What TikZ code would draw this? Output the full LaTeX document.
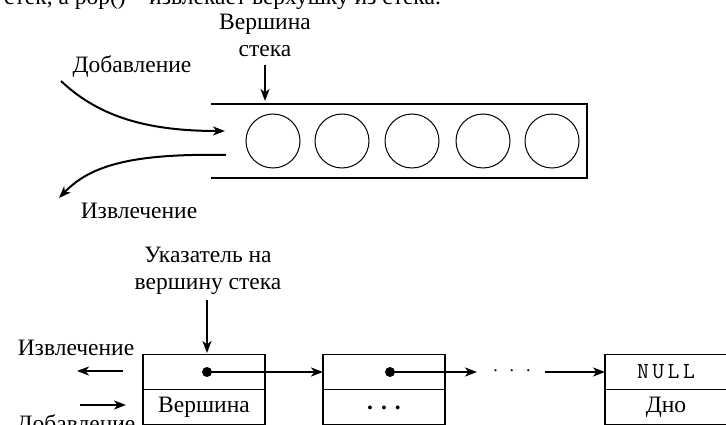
\documentclass[tikz,border=0pt]{standalone}
\usepackage{fontspec}
\setmainfont{Liberation Serif}
\usetikzlibrary{arrows.meta}
\tikzset{
  lbl/.style={inner sep=0pt, font=\fontsize{23.5}{27}\selectfont, align=center},
  arr/.style={line width=2pt, -{Stealth[length=12pt,width=9pt,inset=3.5pt]}},
  tube/.style={line width=2pt},
  ball/.style={circle, draw, line width=1pt, minimum size=54pt, inner sep=0pt},
  cell/.style={rectangle, draw, line width=1.4pt, minimum width=122pt, minimum height=35pt, inner sep=0pt, outer sep=0pt, font=\fontsize{23.5}{27}\selectfont},
  ptr/.style={circle, fill, minimum size=10pt, inner sep=0pt},
}
\begin{document}
\begin{tikzpicture}[x=1pt,y=-1pt]
\useasboundingbox (0,0) rectangle (726,425);
\clip (0,0) rectangle (726,425);
% partially cut-off text line at top
\node[lbl, anchor=base west] (topline) at (4,5) {стек, а pop() – извлекает верхушку из стека.};
% ---------- upper picture: array stack ----------
\node[lbl] (top1) at (265,35) {Вершина\\стека};
\coordinate (top1tip) at (265,101);
\draw[arr] (265,65) -- (top1tip);
\coordinate (tubeTL) at (211,104);
\coordinate (tubeTR) at (587,104);
\coordinate (tubeBR) at (587,178);
\coordinate (tubeBL) at (211,178);
\draw[tube] (tubeTL) -- (tubeTR) -- (tubeBR) -- (tubeBL);
\foreach \i/\x in {1/273,2/342,3/412,4/483,5/552}
  \node[ball] (b\i) at (\x,141) {};
\node[lbl] (add1) at (132,67) {Добавление};
\node[lbl] (rem1) at (139,211) {Извлечение};
\coordinate (addS) at (61,81);
\coordinate (addE) at (225,131);
\draw[arr] (addS) .. controls (100,118) and (150,131) .. (addE);
\coordinate (remS) at (226,155);
\coordinate (remE) at (59,198);
\draw[arr] (remS) .. controls (125,153) and (88,168) .. (remE);
% ---------- lower picture: linked list stack ----------
\node[lbl] (ptrlbl) at (208,271) {Указатель на\\вершину стека};
\node[cell, anchor=north west] (c1t) at (143,354.5) {};
\node[cell, anchor=north] (c1b) at (c1t.south) {Вершина};
\node[cell, anchor=north west] (c2t) at (323,354.5) {};
\node[cell, anchor=north] (c2b) at (c2t.south) {\raisebox{-5pt}{\textbf{.\hspace{8pt}.\hspace{8pt}.}}};
\node[cell, anchor=north west] (c3t) at (605,354.5) {\ttfamily\fontsize{23}{27}\selectfont N\hspace{3.5pt}U\hspace{3.5pt}L\hspace{3.5pt}L};
\node[cell, anchor=north] (c3b) at (c3t.south) {Дно};
\coordinate (vtop) at (207,300);
\draw[arr] (vtop) -- (207,353);
\node[ptr] (p1) at ([xshift=64pt]c1t.west) {};
\node[ptr] (p2) at ([xshift=67pt]c2t.west) {};
\draw[arr] (p1.center) -- (c2t.west);
\coordinate (p2e) at ([xshift=154pt]c2t.west);
\draw[arr] (p2.center) -- (p2e);
\node[inner sep=0pt, font=\fontsize{18}{20}\selectfont] (gap) at (512,371) {.\hspace{12pt}.\hspace{12pt}.};
\coordinate (gapE) at ([xshift=-60pt]c3t.west);
\draw[arr] (gapE) -- (c3t.west);
\node[lbl] (rem2) at (76,348) {Извлечение};
\node[lbl] (add2) at (76,426) {Добавление};
\coordinate (rem2s) at (123,371);
\coordinate (rem2e) at (77,371);
\draw[arr] (rem2s) -- (rem2e);
\coordinate (add2s) at (80,405);
\coordinate (add2e) at (126,405);
\draw[arr] (add2s) -- (add2e);
\end{tikzpicture}
\end{document}
